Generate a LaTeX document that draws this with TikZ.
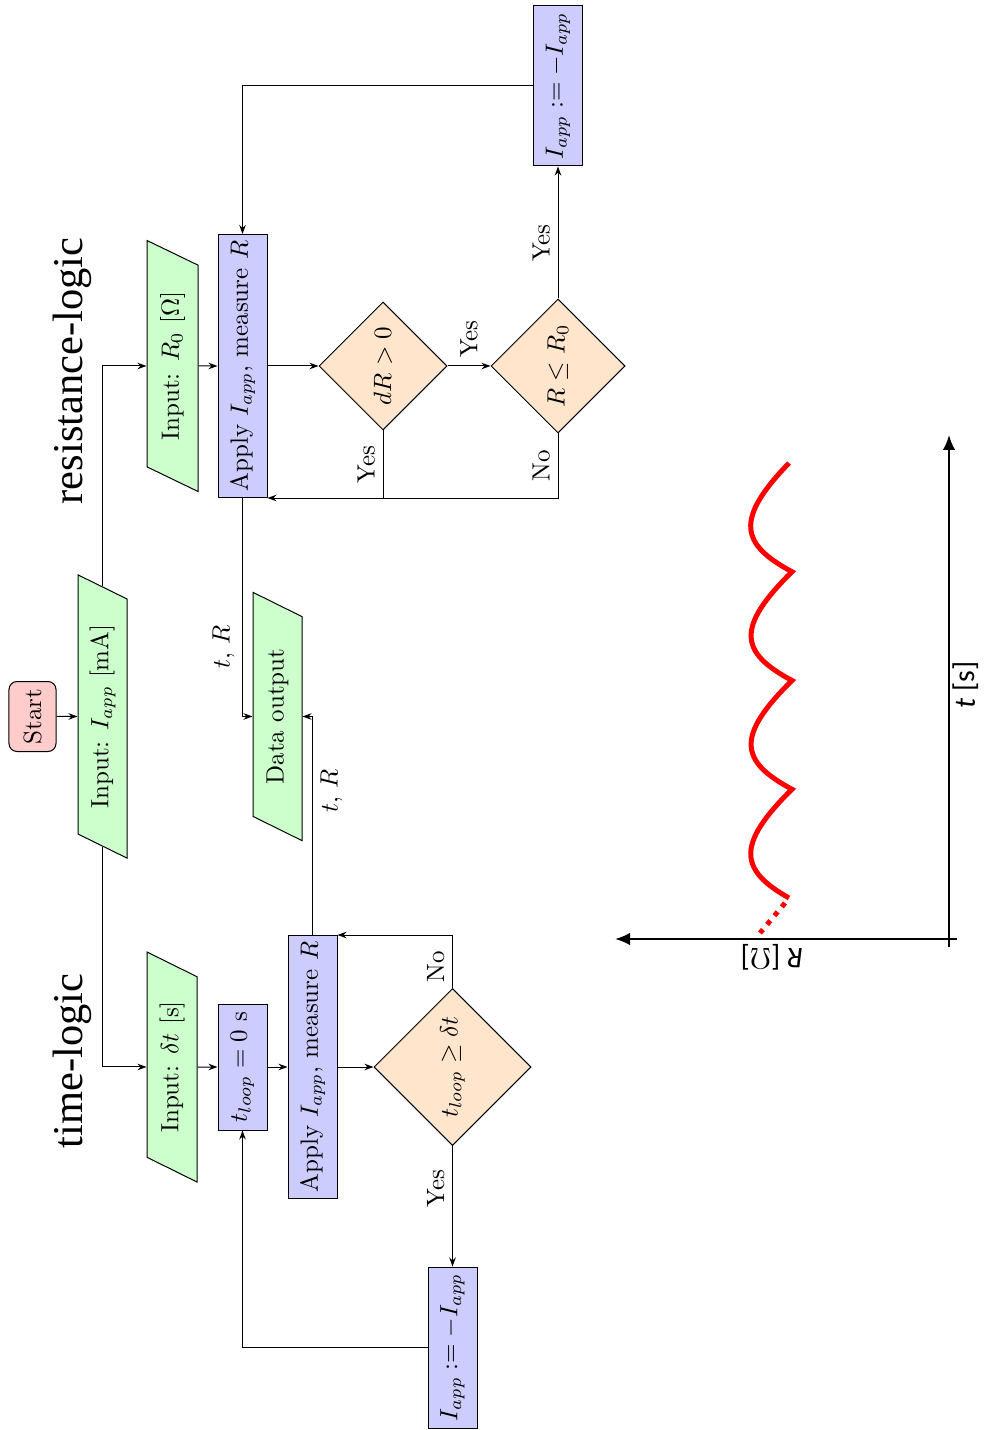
\documentclass[tikz,border=0pt]{standalone}
\usepackage{fontspec}
\newfontfamily\headfont{Liberation Serif}
\newfontfamily\axisfont{Carlito}
\usetikzlibrary{shapes.geometric,arrows.meta}

\begin{document}
\begin{tikzpicture}[x=0.4pt,y=-0.4pt,
  rot/.style={rotate=90},
  proc/.style={rot, draw, fill=blue!20, minimum height=19.6pt, inner sep=2pt},
  io/.style={rot, draw, fill=green!20, trapezium, trapezium left angle=61,
    trapezium right angle=119, trapezium stretches=true, inner sep=2pt},
  decision/.style={rot, draw, fill=orange!20, diamond, aspect=1, inner sep=0pt},
  startnode/.style={rot, draw, fill=red!20, rounded corners=3.2pt,
    minimum width=28pt, minimum height=18.8pt, inner sep=2pt},
  lbl/.style={rot, inner sep=3pt},
  arr/.style={-{Stealth[length=3.6pt,width=2.6pt]}},
  heading/.style={rot, font=\headfont\fontsize{17}{20}\selectfont},
  axislabel/.style={font=\axisfont\fontsize{12}{14}\selectfont},
  axisline/.style={line width=0.8pt, -{Latex[length=6pt,width=5pt]}},
  curve/.style={red, line width=2pt}
]
\useasboundingbox (0,0) rectangle (984,1430);

% ---------- common start ----------
\node[startnode] (start) at (32.5,716.5) {Start};
\node[io, minimum width=114.4pt, minimum height=19.6pt] (inIapp) at (102.5,716.5) {Input: $I_{app}$ [mA]};
\node[io, minimum width=100pt, minimum height=19.6pt] (dataOut) at (277.5,716.5) {Data output};

% ---------- resistance logic ----------
\node[heading] (titleR) at (72,371) {resistance-logic};
\node[io, minimum width=100.8pt, minimum height=20.4pt] (inR0) at (172.5,366) {Input: $R_0$ [$\Omega$]};
\node[proc, minimum width=105.2pt] (applyR) at (242.5,366) {Apply $I_{app}$, measure $R$};
\node[decision, minimum width=51.2pt, minimum height=51.2pt] (dR) at (383,366) {$dR>0$};
\node[decision, minimum width=53.6pt, minimum height=53.6pt] (RleR0) at (558,366) {$R\leq R_0$};
\node[proc, minimum width=64pt] (flipR) at (558,86) {$I_{app} := -I_{app}$};

% ---------- time logic ----------
\node[heading] (titleT) at (72,1061) {time-logic};
\node[io, minimum width=92.4pt, minimum height=20pt] (inDt) at (172,1067) {Input: $\delta t$ [s]};
\node[proc, minimum width=50.4pt] (tloop) at (242.5,1067) {$t_{loop}=0$ s};
\node[proc, minimum width=105.2pt] (applyT) at (312.5,1067) {Apply $I_{app}$, measure $R$};
\node[decision, minimum width=62.8pt, minimum height=62.8pt] (tdec) at (452.5,1067) {$t_{loop}\geq\delta t$};
\node[proc, minimum width=64.4pt] (flipT) at (452.5,1347.5) {$I_{app} := -I_{app}$};

% ---------- connectors ----------
\draw[arr] (start) -- (inIapp);
\draw[arr] (inIapp.east) |- (inR0);
\draw[arr] (inIapp.west) |- (inDt);

\draw[arr] (inR0) -- (applyR);
\draw[arr] (applyR) -- (dR);
\draw[arr] (dR) -- node[lbl, anchor=west] {Yes} (RleR0);
\draw[arr] (RleR0) -- node[lbl, pos=0.42, anchor=south] {Yes} (flipR);
\draw[arr] (flipR) -| (applyR);
\draw (dR.west) -- node[lbl, anchor=south] {Yes} (dR.west |- applyR.south west);
\draw[arr] (RleR0.west) |- node[lbl, pos=0.25, anchor=south] {No} (applyR.south west);
\draw[arr] (applyR.west) |- node[lbl, pos=0.34, anchor=south] {$t$, $R$} (dataOut);

\draw[arr] (inDt) -- (tloop);
\draw[arr] (tloop) -- (applyT);
\draw[arr] (applyT) -- (tdec);
\draw[arr] (tdec.east) |- node[lbl, pos=0.2, anchor=south] {No} (applyT.south east);
\draw[arr] (tdec) -- node[lbl, pos=0.35, anchor=south] {Yes} (flipT);
\draw[arr] (flipT) -| (tloop);
\draw[arr] (applyT.east) |- node[lbl, pos=0.33, anchor=north] {$t$, $R$} (dataOut);

% ---------- sketch of R over t ----------
\draw[axisline] (949,947) -- (949,435);
\draw[axisline] (957,939) -- (615,939);
\node[axislabel, rotate=90] (tlabel) at (966,685) {{\itshape t} [s]};
\node[axislabel, rotate=180] (Rlabel) at (772,957) {{\itshape R} [$\Omega$]};

\draw[curve] (789,463)
  .. controls (735,519) and (740,544) .. (792,571.75)
  .. controls (735,627.75) and (740,652.75) .. (792,680.5)
  .. controls (735,736.5) and (740,761.5) .. (792,789.25)
  .. controls (735,845.25) and (740,870.25) .. (789,898);
\draw[curve, dash pattern=on 2pt off 2.6pt] (785,903) -- (760,933);
\end{tikzpicture}
\end{document}
